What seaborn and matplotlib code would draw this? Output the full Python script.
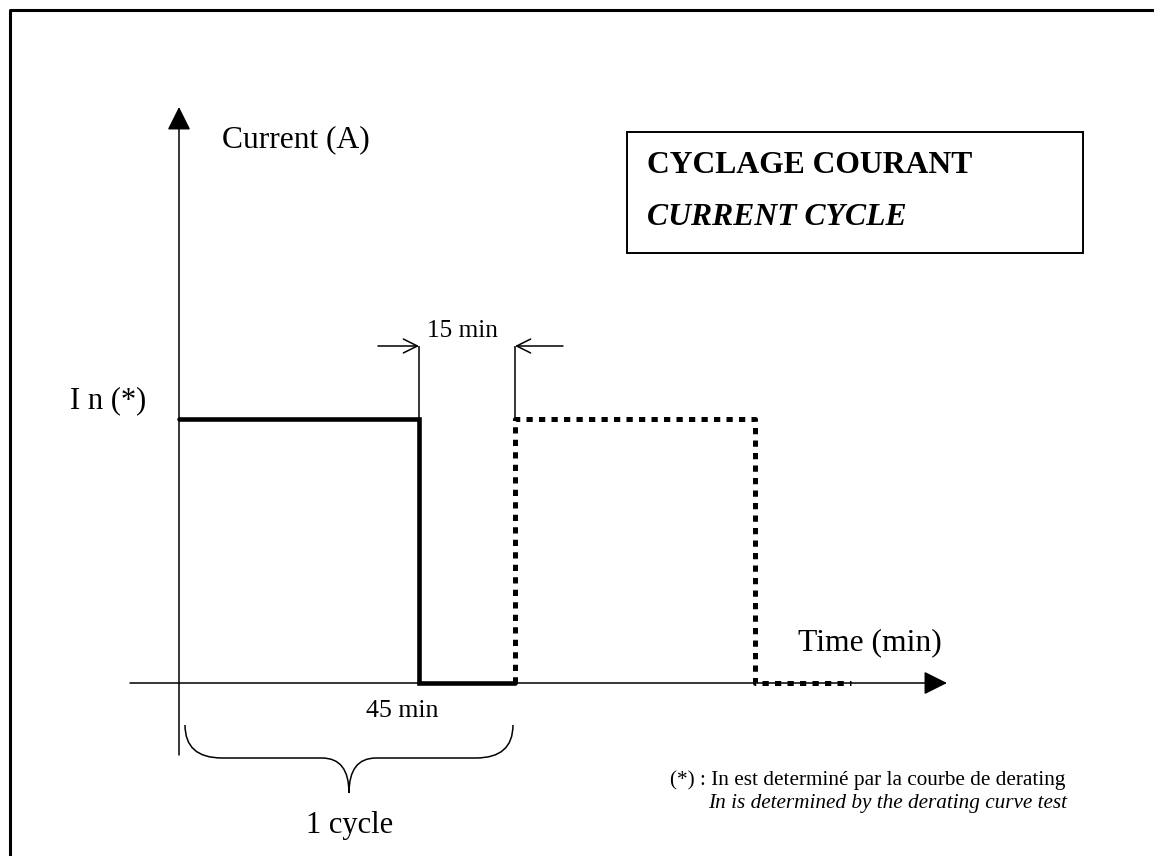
import matplotlib
matplotlib.use("Agg")
import matplotlib.pyplot as plt
import matplotlib.transforms as mtransforms
from matplotlib.patches import Rectangle, PathPatch
from matplotlib.path import Path
import seaborn as sns

# Current cycle: 45 min at In, 15 min off (schematic time units on the x axis)
solid_t = [0, 2.5, 2.5, 3.5]
solid_i = [1, 1, 0, 0]
dotted_t = [3.5, 3.5, 6.0, 6.0, 7.0]
dotted_i = [0, 1, 1, 0, 0]

on_label = "45 min"
off_label = "15 min"
level_label = "I n (*)"

W, H = 1154, 856

sns.set_theme(style="white")
plt.rcParams['font.family'] = ['Liberation Serif', 'DejaVu Serif']

fig = plt.figure(figsize=(W / 100, H / 100), dpi=100)
ax = fig.add_axes([0, 0, 1, 1])

# origin of the schematic at pixel (179, 683), 96 px per time unit, 264 px per In
ax.set_xlim(-179 / 96, (W - 179) / 96)
ax.set_ylim((683 - H) / 264, 683 / 264)
ax.set_axis_off()

# pixel transform (y measured from top) for all the annotation work
pix = mtransforms.Affine2D().scale(1 / W, -1 / H).translate(0, 1) + fig.transFigure


def seg(xs, ys, lw=1.1):
    ax.plot(xs, ys, color='black', lw=lw, transform=pix, solid_capstyle='butt',
            clip_on=False)


def arrow(start, end, style, scale, lw=1.1):
    ax.annotate('', xy=end, xytext=start, xycoords=pix, textcoords=pix,
                arrowprops=dict(arrowstyle=style, mutation_scale=scale, lw=lw,
                                color='black', shrinkA=0, shrinkB=0))


# outer frame (only left and top show)
seg([10, 10, W + 5], [H + 5, 10, 10], lw=2.2)

# axes with filled arrowheads
arrow((179, 755), (179, 107), '-|>,head_length=0.4,head_width=0.2', 36)
arrow((130, 683), (947, 683), '-|>,head_length=0.4,head_width=0.2', 36)

# current steps
sns.lineplot(x=solid_t, y=solid_i, sort=False, estimator=None, ax=ax,
             color='black', linewidth=3.3)
ax.lines[-1].set_solid_joinstyle('miter')
sns.lineplot(x=dotted_t, y=dotted_i, sort=False, estimator=None, ax=ax,
             color='black', linewidth=3.6, linestyle=(0, (1.25, 1.25)))
ax.lines[-1].set_dash_capstyle('butt')

# 15 min marker
seg([419, 419], [346, 419])
seg([515, 515], [346, 419])
arrow((378, 346), (419, 346), '->', 25)
arrow((563, 346), (515, 346), '->', 25)

# brace under one cycle
verts = [(185, 725), (185, 758), (222, 758), (322, 758), (349, 758), (349, 793),
         (349, 758), (376, 758), (476, 758), (513, 758), (513, 725)]
codes = [Path.MOVETO, Path.CURVE3, Path.CURVE3, Path.LINETO, Path.CURVE3, Path.CURVE3,
         Path.CURVE3, Path.CURVE3, Path.LINETO, Path.CURVE3, Path.CURVE3]
ax.add_patch(PathPatch(Path(verts, codes), fill=False, lw=1.1, color='black',
                       transform=pix, clip_on=False))

# title box
ax.add_patch(Rectangle((627, 132), 456, 121, fill=False, lw=1.4, color='black',
                       transform=pix, clip_on=False))
ax.text(647, 173, "CYCLAGE COURANT", transform=pix, fontsize=22.8,
        fontweight='bold', va='baseline', color='black')
ax.text(647, 225, "CURRENT CYCLE", transform=pix, fontsize=22.8,
        fontweight='bold', style='italic', va='baseline', color='black')

# labels
ax.text(222, 147, "Current (A)", transform=pix, fontsize=22.7, va='baseline', color='black')
ax.text(798, 650, "Time (min)", transform=pix, fontsize=22.8, va='baseline', color='black')
ax.text(70, 408, level_label, transform=pix, fontsize=22, va='baseline', color='black')
ax.text(427, 337, off_label, transform=pix, fontsize=18.2, va='baseline', color='black')
ax.text(366, 717, on_label, transform=pix, fontsize=18.6, va='baseline', color='black')
ax.text(350, 833, "1 cycle", transform=pix, fontsize=22, va='baseline', ha='center',
        color='black')

# footnote
ax.text(1065, 785, "(*) : In est determiné par la courbe de derating", transform=pix,
        fontsize=15.3, va='baseline', ha='right', color='black')
ax.text(1067, 808, "In is determined by the derating curve test", transform=pix,
        fontsize=15.3, style='italic', va='baseline', ha='right', color='black')

fig.savefig("out.png", dpi=100)
